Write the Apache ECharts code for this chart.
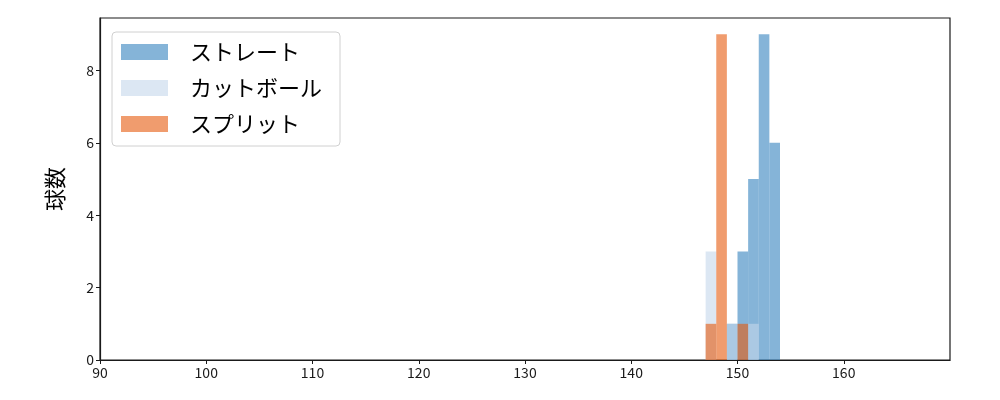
<!DOCTYPE html>
<html>
<head>
<meta charset="utf-8">
<script src="https://cdn.jsdelivr.net/npm/echarts@6/dist/echarts.min.js"></script>
<style>
html, body { margin: 0; padding: 0; background: #fff; }
#chartmain { width: 1000px; height: 400px; }
</style>
</head>
<body>
<div id="chartmain"></div>
<script>
// histogram bins (start of each 1km/h bin)
var binStarts = [147, 148, 149, 150, 151, 152, 153];
var straight = [0, 0, 1, 3, 5, 9, 6];
var cutball = [3, 0, 1, 0, 1, 0, 0];
var split = [1, 9, 0, 1, 0, 0, 0];
var seriesNames = ['ストレート', 'カットボール', 'スプリット'];
var xTicks = [90, 100, 110, 120, 130, 140, 150, 160];
var yTicks = [0, 2, 4, 6, 8];

var colors = ['rgba(52,130,190,0.6)', 'rgba(197,215,235,0.6)', 'rgba(230,90,13,0.6)'];
var font = '"Noto Sans CJK JP", "DejaVu Sans", sans-serif';

function toBins(counts) {
    var out = [];
    for (var i = 0; i < counts.length; i++) {
        if (counts[i] > 0) out.push([binStarts[i], binStarts[i] + 1, counts[i]]);
    }
    return out;
}

function renderBin(params, api) {
    var p0 = api.coord([api.value(0), api.value(2)]);
    var p1 = api.coord([api.value(1), 0]);
    return {
        type: 'rect',
        shape: { x: p0[0], y: p0[1], width: p1[0] - p0[0], height: p1[1] - p0[1] },
        style: { fill: colors[params.seriesIndex] }
    };
}

var allCounts = [straight, cutball, split];
var series = [];
for (var s = 0; s < allCounts.length; s++) {
    series.push({
        name: seriesNames[s],
        type: 'custom',
        renderItem: renderBin,
        itemStyle: { color: colors[s] },
        encode: { x: [0, 1], y: 2 },
        data: toBins(allCounts[s])
    });
}

var option = {
    animation: false,
    textStyle: { fontFamily: font },
    grid: {
        left: 100, right: 50, top: 18, bottom: 40,
        show: true, borderColor: '#1a1a1a', borderWidth: 1.2, backgroundColor: 'transparent'
    },
    legend: {
        orient: 'vertical',
        left: 112, top: 32,
        padding: [9, 18, 11, 9],
        itemWidth: 47, itemHeight: 16, itemGap: 14,
        icon: 'rect',
        backgroundColor: '#fff',
        borderColor: '#d0d0d0', borderWidth: 1, borderRadius: 4,
        textStyle: { fontSize: 22, color: '#000', fontFamily: font, padding: [0, 0, 0, 17] },
        data: seriesNames
    },
    xAxis: {
        type: 'value',
        min: 90, max: 170, interval: 10,
        splitLine: { show: false },
        axisLine: { lineStyle: { color: '#1a1a1a', width: 1.2 } },
        axisTick: { length: 4, lineStyle: { color: '#1a1a1a' }, customValues: xTicks },
        axisLabel: { fontSize: 14, color: '#1a1a1a', margin: 6, customValues: xTicks }
    },
    yAxis: {
        type: 'value',
        min: 0, max: 9.45, interval: 2,
        name: '球数',
        nameLocation: 'middle',
        nameGap: 34,
        nameTextStyle: { fontSize: 22, color: '#000', fontFamily: font },
        splitLine: { show: false },
        axisLine: { show: true, lineStyle: { color: '#1a1a1a', width: 1.2 } },
        axisTick: { show: true, length: 4, lineStyle: { color: '#1a1a1a' }, customValues: yTicks },
        axisLabel: { fontSize: 14, color: '#1a1a1a', margin: 6, customValues: yTicks }
    },
    series: series
};

var myChart = echarts.init(document.getElementById('chartmain'));
myChart.setOption(option);
</script>
</body>
</html>
